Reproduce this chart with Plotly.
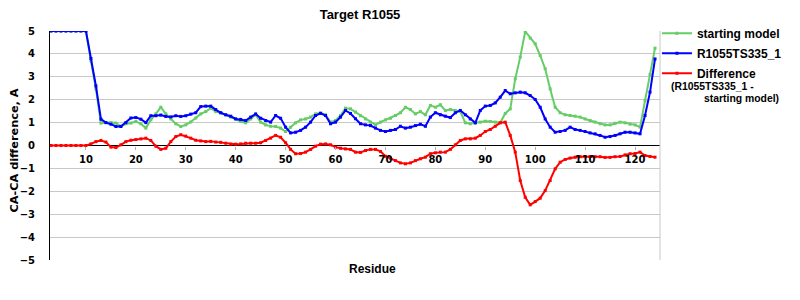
import plotly.graph_objects as go

residues = list(range(3, 125))

starting_model = [
    5, 5, 5, 5, 5, 5, 5, 5,
    3.7, 2.47, 0.98, 1.0, 1.0, 0.98, 0.84, 0.95, 0.98, 1.05,
    0.95, 0.76, 1.12, 1.38, 1.67, 1.38, 1.16, 0.95, 0.83, 0.9,
    1.03, 1.2, 1.38, 1.48, 1.63, 1.48, 1.43, 1.34, 1.24, 1.16,
    1.05, 0.99, 1.16, 1.34, 1.02, 0.9, 0.84, 0.83, 0.76, 0.61,
    0.8, 0.99, 1.12, 1.16, 1.24, 1.38, 1.43, 1.34, 1.02, 1.09,
    1.31, 1.63, 1.6, 1.46, 1.3, 1.16, 1.02, 0.9, 1.02, 1.12,
    1.19, 1.31, 1.43, 1.67, 1.57, 1.38, 1.48, 1.34, 1.75, 1.67,
    1.78, 1.53, 1.57, 1.53, 1.48, 0.99, 0.95, 0.99, 1.02, 1.06,
    1.05, 1.02, 1.0, 1.4, 1.6, 2.91, 3.86, 4.98, 4.69, 4.44,
    3.93, 3.35, 2.47, 1.67, 1.43, 1.34, 1.31, 1.28, 1.24, 1.16,
    1.09, 1.02, 0.95, 0.9, 0.9, 0.97, 1.02, 0.99, 0.93, 0.9,
    0.8, 1.97, 3.1, 4.25,
]

model_ts335 = [
    5, 5, 5, 5, 5, 5, 5, 5,
    3.8, 2.6, 1.15, 1.0, 0.93, 0.83, 0.83, 1.0, 1.2, 1.22,
    1.15, 1.0, 1.3, 1.3, 1.33, 1.27, 1.25, 1.3, 1.27, 1.3,
    1.37, 1.43, 1.7, 1.72, 1.72, 1.57, 1.43, 1.34, 1.28, 1.16,
    1.14, 1.09, 1.24, 1.38, 1.19, 1.09, 1.02, 1.31, 1.19, 0.8,
    0.55, 0.58, 0.66, 0.8, 1.02, 1.31, 1.4, 1.31, 0.95, 1.02,
    1.24, 1.53, 1.4, 1.17, 0.95, 0.9, 0.87, 0.76, 0.66, 0.61,
    0.66, 0.7, 0.84, 0.76, 0.8, 0.87, 0.93, 0.84, 1.24, 1.43,
    1.34, 1.28, 1.22, 1.43, 1.53, 1.34, 1.16, 0.99, 1.53, 1.72,
    1.75, 1.86, 2.11, 2.4, 2.26, 2.3, 2.33, 2.3, 2.18, 2.01,
    1.67, 1.16, 0.8, 0.58, 0.61, 0.66, 0.8, 0.7, 0.66, 0.61,
    0.55, 0.51, 0.44, 0.36, 0.39, 0.44, 0.51, 0.58, 0.58, 0.55,
    0.51, 1.31, 2.33, 3.78,
]

difference = [
    0, 0, 0, 0, 0, 0, 0, 0,
    0.07, 0.17, 0.22, 0.15, -0.07, -0.09, 0.03, 0.17, 0.23, 0.26,
    0.29, 0.32, 0.22, -0.03, -0.17, -0.12, 0.17, 0.39, 0.47, 0.41,
    0.32, 0.23, 0.2, 0.17, 0.18, 0.15, 0.14, 0.1, 0.06, 0.06,
    0.07, 0.1, 0.1, 0.1, 0.12, 0.22, 0.32, 0.44, 0.36, 0.12,
    -0.17, -0.36, -0.35, -0.29, -0.17, -0.03, 0.06, 0.07, 0.03, -0.07,
    -0.12, -0.15, -0.17, -0.29, -0.3, -0.22, -0.17, -0.17, -0.26, -0.47,
    -0.55, -0.66, -0.76, -0.8, -0.76, -0.66, -0.58, -0.51, -0.36, -0.32,
    -0.29, -0.29, -0.17, 0.03, 0.22, 0.29, 0.29, 0.32, 0.44, 0.61,
    0.7, 0.84, 0.99, 1.02, 0.44, -0.29, -1.53, -2.26, -2.59, -2.45,
    -2.3, -1.97, -1.53, -1.02, -0.73, -0.61, -0.55, -0.51, -0.49, -0.49,
    -0.48, -0.49, -0.49, -0.52, -0.52, -0.49, -0.48, -0.41, -0.36, -0.35,
    -0.29, -0.44, -0.48, -0.51,
]

x_ticks = [10, 20, 30, 40, 50, 60, 70, 80, 90, 100, 110, 120]
y_ticks = [-5, -4, -3, -2, -1, 0, 1, 2, 3, 4, 5]

series = [
    ("starting model", starting_model, "#66cc66"),
    ("R1055TS335_1", model_ts335, "#0000ff"),
    ("Difference", difference, "#ff0000"),
]

fig = go.Figure()
for name, vals, color in series:
    fig.add_trace(go.Scatter(
        x=residues, y=vals,
        name="<span style='font-size:12px'>" + name + "</span>",
        mode="lines+markers",
        line=dict(color=color, width=2),
        marker=dict(color=color, size=3, symbol="square"),
    ))

tick_font = dict(family="DejaVu Sans", size=10, color="black", weight="bold")

fig.update_layout(
    width=800, height=300,
    margin=dict(l=50, r=140, t=31, b=40),
    paper_bgcolor="white", plot_bgcolor="white",
    title=dict(text="<b>Target R1055</b>", x=0.45, xanchor="center",
               y=1 - 14 / 300, yanchor="middle",
               font=dict(family="Liberation Sans", size=13, color="black")),
    xaxis=dict(range=[2.8, 125.0], tickvals=x_ticks, showgrid=False,
               zeroline=False, showline=False, anchor="free", position=0.5,
               ticks="outside", ticklen=3, tickcolor="#b0b0b0",
               tickfont=tick_font, ticklabelstandoff=1),
    yaxis=dict(range=[-5, 5], tickvals=y_ticks, showgrid=True,
               gridcolor="#c8c8c8", gridwidth=1,
               zeroline=True, zerolinecolor="black", zerolinewidth=1,
               showline=True, linecolor="black", linewidth=1,
               ticks="", tickfont=tick_font, ticklabelstandoff=12),
    showlegend=True,
    legend=dict(x=0.995, xanchor="left", y=1.055, yanchor="top",
                font=dict(family="Liberation Sans", size=13, color="black", weight="bold"),
                bgcolor="rgba(0,0,0,0)", tracegroupgap=0),
)

fig.add_shape(type="line", xref="paper", yref="paper", x0=1, x1=1, y0=0, y1=1,
              line=dict(color="#c8c8c8", width=1))

fig.add_annotation(text="<b>CA-CA difference, A</b>", xref="paper", yref="paper",
                   x=-0.0574, y=0.478, textangle=-90, showarrow=False,
                   xanchor="center", yanchor="middle",
                   font=dict(family="DejaVu Sans", size=11.3, color="black"))
fig.add_annotation(text="<b>Residue</b>", xref="paper", yref="paper",
                   x=0.5295, y=-0.039, showarrow=False,
                   xanchor="center", yanchor="middle",
                   font=dict(family="Liberation Sans", size=12, color="black"))
fig.add_annotation(text="<b>(R1055TS335_1 -</b>", xref="paper", yref="paper",
                   x=1.0148, y=0.7598, showarrow=False,
                   xanchor="left", yanchor="middle",
                   font=dict(family="Liberation Sans", size=10.4, color="black"))
fig.add_annotation(text="<b>starting model)</b>", xref="paper", yref="paper",
                   x=1.0689, y=0.7074, showarrow=False,
                   xanchor="left", yanchor="middle",
                   font=dict(family="Liberation Sans", size=10.4, color="black"))

fig.write_html("out.html")
